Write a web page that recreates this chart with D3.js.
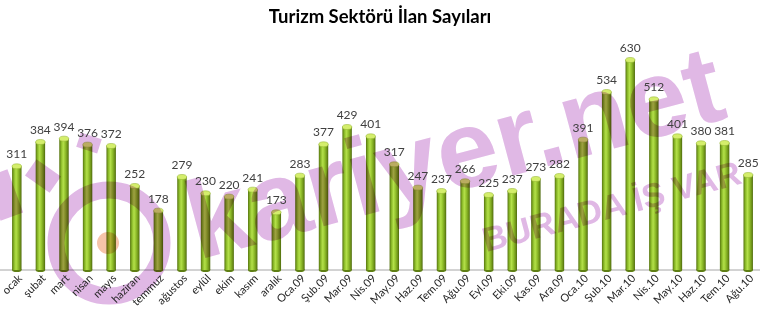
<!DOCTYPE html>
<html>
<head>
<meta charset="utf-8">
<script src="https://cdn.jsdelivr.net/npm/d3@7"></script>
<style>
body { margin: 0; background: #fff; }
svg { display: block; }
</style>
</head>
<body>
<div id="chart"></div>
<script>
// chart data
var months = ["ocak", "şubat", "mart", "nisan", "mayıs", "haziran", "temmuz", "ağustos",
    "eylül", "ekim", "kasım", "aralık",
    "Oca.09", "Şub.09", "Mar.09", "Nis.09", "May.09", "Haz.09", "Tem.09", "Ağu.09",
    "Eyl.09", "Eki.09", "Kas.09", "Ara.09",
    "Oca.10", "Şub.10", "Mar.10", "Nis.10", "May.10", "Haz.10", "Tem.10", "Ağu.10"]
var counts = [311, 384, 394, 376, 372, 252, 178, 279,
    230, 220, 241, 173,
    283, 377, 429, 401, 317, 247, 237, 266,
    225, 237, 273, 282,
    391, 534, 630, 512, 401, 380, 381, 285]
var title = "Turizm Sektörü İlan Sayıları"

var width = 760, height = 316
var base = 270

var svg = d3.select("#chart").append("svg")
    .attr("width", width)
    .attr("height", height)

var x = d3.scaleBand().domain(months).range([5, 760]).paddingInner(0.6).paddingOuter(0.3)
var y = d3.scaleLinear().domain([0, 630]).range([base, 60])

// gradient for the cylinder bodies
var defs = svg.append("defs")
var grad = defs.append("linearGradient").attr("id", "cyl")
    .attr("x1", "0%").attr("x2", "100%").attr("y1", "0%").attr("y2", "0%")
var stops = [[0, "#56740f"], [0.22, "#8dbd2a"], [0.42, "#b4e04a"], [0.62, "#95c42e"], [0.85, "#6f9419"], [1, "#4c680c"]]
stops.forEach(function (s) {
    grad.append("stop").attr("offset", s[0]).attr("stop-color", s[1])
})

// baseline
svg.append("line")
    .attr("x1", 0).attr("x2", width)
    .attr("y1", base).attr("y2", base)
    .attr("stroke", "#a6a6a6").attr("stroke-width", 1)

var bw = x.bandwidth()
var bars = svg.selectAll("g.bar")
    .data(counts)
    .enter()
    .append("g")
    .attr("class", "bar")

bars.append("ellipse")
    .attr("cx", function (d, i) { return x(months[i]) + bw / 2 })
    .attr("cy", base)
    .attr("rx", bw / 2).attr("ry", 2)
    .attr("fill", "#5f7f14")

bars.append("rect")
    .attr("x", function (d, i) { return x(months[i]) })
    .attr("y", function (d) { return y(d) })
    .attr("width", bw)
    .attr("height", function (d) { return base - y(d) })
    .attr("fill", "url(#cyl)")

// top of the cylinder
bars.append("ellipse")
    .attr("cx", function (d, i) { return x(months[i]) + bw / 2 })
    .attr("cy", function (d) { return y(d) })
    .attr("rx", bw / 2).attr("ry", 2.5)
    .attr("fill", "#d4ee6c")
    .attr("stroke", "#98b838")
    .attr("stroke-width", 0.6)

// watermark, multiplied over the bars
var wm = svg.append("g")
    .style("mix-blend-mode", "multiply")
    .attr("fill", "#e0b8e5")

wm.append("circle")
    .attr("cx", 109).attr("cy", 243).attr("r", 53)
    .attr("fill", "none")
    .attr("stroke", "#e0b8e5")
    .attr("stroke-width", 17)

wm.append("circle")
    .attr("cx", 108).attr("cy", 243).attr("r", 11)
    .attr("fill", "#f6c4aa")

var rays = [[4, 195, 24, 46, -20], [43, 176, 30, 20, 35], [89, 143, 22, 15, 18]]
rays.forEach(function (r) {
    wm.append("rect")
        .attr("x", -r[2] / 2).attr("y", -r[3] / 2)
        .attr("width", r[2]).attr("height", r[3])
        .attr("transform", "translate(" + r[0] + "," + r[1] + ") rotate(" + r[4] + ")")
})

wm.append("text")
    .attr("transform", "translate(198,260) rotate(-15)")
    .attr("font-family", "Liberation Sans, Arial, sans-serif")
    .attr("font-weight", "bold")
    .attr("font-size", "110px")
    .text("kariyer.net")

wm.append("text")
    .attr("transform", "translate(486,252) rotate(-15)")
    .attr("font-family", "Liberation Sans, Arial, sans-serif")
    .attr("font-weight", "bold")
    .attr("font-size", "34px")
    .text("BURADA İŞ VAR")

// value labels
svg.selectAll("text.val")
    .data(counts)
    .enter()
    .append("text")
    .attr("class", "val")
    .attr("x", function (d, i) { return x(months[i]) + bw / 2 })
    .attr("y", function (d) { return y(d) - 8 })
    .attr("text-anchor", "middle")
    .attr("font-family", "Lato, sans-serif")
    .attr("font-size", "12px")
    .attr("fill", "#404040")
    .text(function (d) { return d })

// category labels, rotated
svg.selectAll("text.cat")
    .data(months)
    .enter()
    .append("text")
    .attr("class", "cat")
    .attr("transform", function (d) {
        return "translate(" + (x(d) + bw / 2 + 6) + "," + (base + 9) + ") rotate(-45)"
    })
    .attr("text-anchor", "end")
    .attr("font-family", "Lato, sans-serif")
    .attr("font-size", "11px")
    .attr("fill", "#262626")
    .text(function (d) { return d })

svg.append("text")
    .attr("x", 380).attr("y", 23)
    .attr("text-anchor", "middle")
    .attr("font-family", "Lato, sans-serif")
    .attr("font-weight", "bold")
    .attr("font-size", "18.5px")
    .attr("fill", "#000")
    .text(title)
</script>
</body>
</html>
